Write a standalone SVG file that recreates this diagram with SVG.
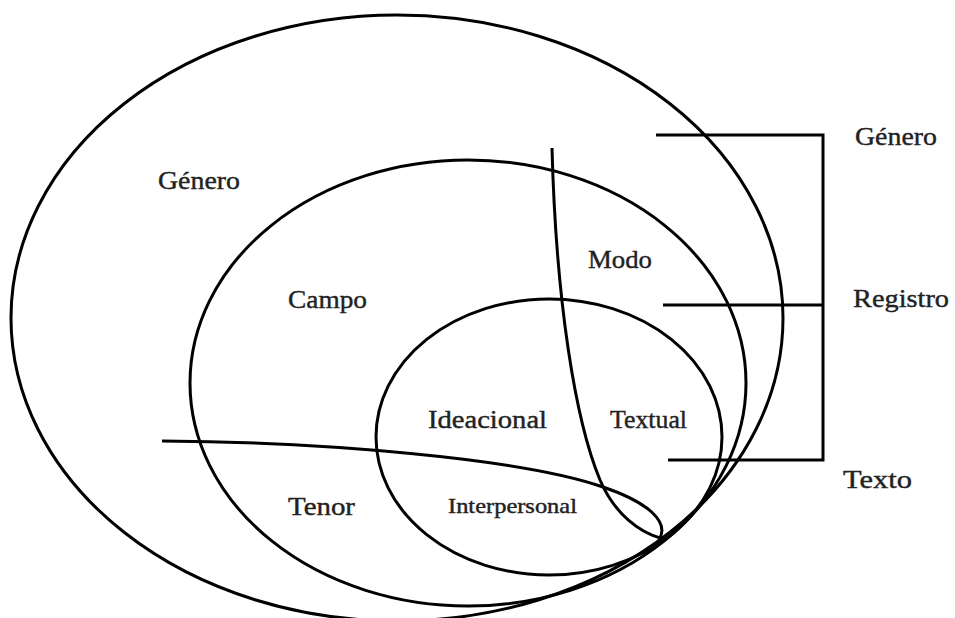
<svg xmlns="http://www.w3.org/2000/svg" width="955" height="618" viewBox="0 0 955 618">
<style>
.s{fill:none;stroke:#000;stroke-width:3}
.t{font-family:"Liberation Serif","Times New Roman",serif;font-size:26px;fill:#222;stroke:#222;stroke-width:0.4}
.sm{font-size:21px}
</style>
<rect width="955" height="618" fill="#fff"/>
<g id="genero">
<ellipse class="s" cx="397" cy="318" rx="386" ry="303"/>
<text class="t" x="158" y="189" textLength="82" lengthAdjust="spacingAndGlyphs">Género</text>
</g>
<g id="registro">
<ellipse class="s" cx="468" cy="383" rx="278" ry="223"/>
<text class="t" x="288" y="308" textLength="79" lengthAdjust="spacingAndGlyphs">Campo</text>
<text class="t" x="588" y="268" textLength="64" lengthAdjust="spacingAndGlyphs">Modo</text>
<text class="t" x="288" y="515" textLength="67" lengthAdjust="spacingAndGlyphs">Tenor</text>
</g>
<g id="texto">
<ellipse class="s" cx="549" cy="437" rx="173" ry="138"/>
<text class="t" x="428" y="428" textLength="119" lengthAdjust="spacingAndGlyphs">Ideacional</text>
<text class="t" x="610" y="428" textLength="77" lengthAdjust="spacingAndGlyphs">Textual</text>
<text class="t sm" x="448" y="513" textLength="129" lengthAdjust="spacingAndGlyphs">Interpersonal</text>
</g>
<g id="divisores">
<path class="s" d="M552,148 C556,300 575,420 600,480 C615,515 640,532 660,538"/>
<path class="s" d="M162,441 C320,442 520,458 603,487 C650,503 668,522 660,538"/>
</g>
<g id="connectors">
<polyline class="s" points="656,135 823,135 823,460 668,460"/>
<line class="s" x1="663" y1="305" x2="823" y2="305"/>
</g>
<g id="leyenda">
<text class="t" x="855" y="145" textLength="82" lengthAdjust="spacingAndGlyphs">Género</text>
<text class="t" x="853" y="307" textLength="96" lengthAdjust="spacingAndGlyphs">Registro</text>
<text class="t" x="843" y="488" textLength="69" lengthAdjust="spacingAndGlyphs">Texto</text>
</g>
</svg>
